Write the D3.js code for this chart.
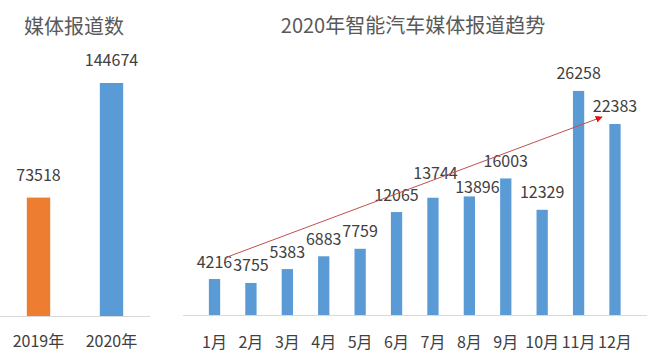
<!DOCTYPE html>
<html><head><meta charset="utf-8">
<script src="https://cdn.jsdelivr.net/npm/d3@7"></script>
<style>body{margin:0;background:#fff}svg{display:block}text{font-family:"Noto Sans CJK SC","Noto Sans",sans-serif}</style>
</head><body>
<script>
const yearCats = ["2019年", "2020年"];
const yearVals = [73518, 144674];
const yearColors = ["#ed7d31", "#5b9bd5"];
const months = ["1月","2月","3月","4月","5月","6月","7月","8月","9月","10月","11月","12月"];
const monthVals = [4216, 3755, 5383, 6883, 7759, 12065, 13744, 13896, 16003, 12329, 26258, 22383];
const leftTitle = "媒体报道数";
const rightTitle = "2020年智能汽车媒体报道趋势";

const W = 654, H = 360;
const svg = d3.select("body").append("svg").attr("width", W).attr("height", H);
const txt = "#404040";

// Left chart
const xL = d3.scaleBand().domain(yearCats).range([2, 148]).paddingInner(0.68).paddingOuter(0.34);
const yL = d3.scaleLinear().domain([0, 150000]).range([316, 74.4]);
const gL = svg.append("g");
gL.append("line").attr("x1", 0).attr("x2", 150).attr("y1", 316.5).attr("y2", 316.5).attr("stroke", "#d9d9d9");
gL.selectAll("rect").data(yearVals).join("rect")
  .attr("x", (d,i) => xL(yearCats[i])).attr("width", xL.bandwidth())
  .attr("y", d => yL(d)).attr("height", d => yL(0) - yL(d))
  .attr("fill", (d,i) => yearColors[i]);
gL.selectAll("text.v").data(yearVals).join("text").attr("class","v")
  .attr("x", (d,i) => xL(yearCats[i]) + xL.bandwidth()/2).attr("y", d => yL(d) - 17)
  .attr("text-anchor","middle").attr("font-size", 16).attr("fill", txt).text(d => d);
gL.selectAll("text.c").data(yearCats).join("text").attr("class","c")
  .attr("x", d => xL(d) + xL.bandwidth()/2).attr("y", 347)
  .attr("text-anchor","middle").attr("font-size", 16).attr("fill", txt).text(d => d);
svg.append("text").attr("x", 24).attr("y", 34).attr("font-size", 20).attr("fill", "#595959").text(leftTitle);

// Right chart
const xR = d3.scaleBand().domain(months).range([183.75, 645.75]).padding(0.69);
const yR = d3.scaleLinear().domain([0, 30000]).range([315, 59]);
const gR = svg.append("g");
gR.append("line").attr("x1", 183).attr("x2", 647).attr("y1", 315.5).attr("y2", 315.5).attr("stroke", "#d9d9d9");
gR.selectAll("rect").data(monthVals).join("rect")
  .attr("x", (d,i) => xR(months[i])).attr("width", xR.bandwidth())
  .attr("y", d => yR(d)).attr("height", d => yR(0) - yR(d))
  .attr("fill", "#5b9bd5");
// label nudges (as placed in the original)
const nudge = {"7月": [2.5, -7.5], "8月": [8, 8]};
gR.selectAll("text.v").data(monthVals).join("text").attr("class","v")
  .attr("x", (d,i) => xR(months[i]) + xR.bandwidth()/2 + (nudge[months[i]] ? nudge[months[i]][0] : 0))
  .attr("y", (d,i) => yR(d) - 11.5 + (nudge[months[i]] ? nudge[months[i]][1] : 0))
  .attr("text-anchor","middle").attr("font-size", 16).attr("fill", txt).text(d => d);
gR.selectAll("text.c").data(months).join("text").attr("class","c")
  .attr("x", d => xR(d) + xR.bandwidth()/2).attr("y", 347.5)
  .attr("text-anchor","middle").attr("font-size", 16).attr("fill", txt).text(d => d);
svg.append("text").attr("x", 413).attr("y", 33).attr("text-anchor","middle").attr("font-size", 20).attr("fill", "#595959").text(rightTitle);

// trend arrow
svg.append("defs").append("marker").attr("id","ah").attr("viewBox","0 0 10 10").attr("refX",9).attr("refY",5)
  .attr("markerWidth",7).attr("markerHeight",7).attr("orient","auto")
  .append("path").attr("d","M0,0L10,5L0,10Z").attr("fill","#e01010");
const c = m => xR(m) + xR.bandwidth()/2;
svg.append("line")
  .attr("x1", c("1月") + 10).attr("y1", yR(monthVals[0]) - 21)
  .attr("x2", c("12月") - 13).attr("y2", yR(monthVals[11]) - 7)
  .attr("stroke", "#c0504d").attr("stroke-width", 1).attr("marker-end","url(#ah)");
</script>
</body></html>
